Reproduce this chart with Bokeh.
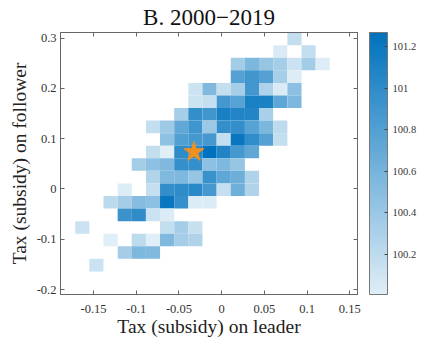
from bokeh.plotting import figure
from bokeh.models import (ColumnDataSource, LinearColorMapper, ColorBar, FixedTicker,
                          CustomJSTickFormatter, LinearAxis, Range1d)
from bokeh.embed import file_html
from bokeh.resources import INLINE

# ---------------- data ----------------
title_text = "B. 2000\u22122019"
x_label = "Tax (subsidy) on leader"
y_label = "Tax (subsidy) on follower"

# bin centres of the 2D histogram
x_centers = [-0.1632, -0.1467, -0.1301, -0.1135, -0.0970, -0.0804, -0.0639, -0.0473, -0.0308,
             -0.0142, 0.0024, 0.0189, 0.0355, 0.0520, 0.0686, 0.0852, 0.1017, 0.1183]
y_centers = [0.2985, 0.2735, 0.2485, 0.2235, 0.1985, 0.1735, 0.1485, 0.1235, 0.0985, 0.0735,
             0.0485, 0.0235, -0.0015, -0.0265, -0.0515, -0.0765, -0.1015, -0.1265, -0.1515]

n = None
# rows top -> bottom (matching y_centers), columns left -> right (matching x_centers)
values = [
    [n, n, n, n, n, n, n, n, n, n, n, n, n, n, n, 100.17, n, n],
    [n, n, n, n, n, n, n, n, n, n, n, n, n, n, 100.04, n, 100.17, n],
    [n, n, n, n, n, n, n, n, n, n, n, 100.35, 100.57, 100.42, 100.33, 100.13, 100.35, 100.02],
    [n, n, n, n, n, n, n, n, n, n, n, 100.79, 100.90, 100.79, 100.33, 100.02, n, n],
    [n, n, n, n, n, n, n, n, 100.12, 100.54, 100.16, 100.33, 100.89, 100.29, 100.04, 100.48, n, n],
    [n, n, n, n, n, n, n, n, 100.12, 100.16, 100.88, 100.78, 101.13, 101.12, 100.74, 100.57, n, n],
    [n, n, n, n, n, n, n, 100.33, 100.98, 100.90, 101.13, 101.08, 101.07, 100.32, n, n, n, n],
    [n, n, n, n, n, 100.17, 100.38, 100.72, 100.91, 100.40, 100.98, 100.98, 100.78, 100.57, 100.20, n, n, n],
    [n, n, n, n, n, n, 100.46, 100.81, 100.87, 100.87, 100.17, 101.22, 100.99, 100.79, 100.17, n, n, n],
    [n, n, n, n, n, 100.17, 100.01, 101.00, 101.04, 101.27, 101.08, 100.87, 100.73, n, n, n, n, n],
    [n, n, n, n, 100.35, 100.47, 100.54, 100.97, 100.97, 100.47, 100.56, 100.42, n, n, n, n, n, n],
    [n, n, n, n, n, 100.27, 100.54, 100.56, 100.42, 100.94, 100.74, 100.65, 100.28, n, n, n, n, n],
    [n, n, n, 100.02, n, 100.16, 100.98, 101.00, 101.03, 100.87, 100.16, 100.65, 100.28, n, n, n, n, n],
    [n, n, 100.21, 100.34, 100.51, 100.47, 101.22, 100.97, 100.03, 100.03, n, n, n, n, n, n, n, n],
    [n, n, n, 100.93, 101.00, 100.13, 100.03, n, n, n, n, n, n, n, n, n, n, n],
    [100.13, n, n, n, n, n, 100.17, 100.34, 100.15, n, n, n, n, n, n, n, n, n],
    [n, n, 100.01, n, 100.20, 100.01, 100.54, 100.34, 100.28, n, n, n, n, n, n, n, n, n],
    [n, n, n, 100.34, 100.57, 100.54, n, n, n, n, n, n, n, n, n, n, n, n],
    [n, 100.13, n, n, n, n, n, n, n, n, n, n, n, n, n, n, n, n],
]

star_x = [-0.0325]
star_y = [0.0736]

x_ticks = [-0.15, -0.1, -0.05, 0, 0.05, 0.1, 0.15]
y_ticks = [-0.2, -0.1, 0, 0.1, 0.2, 0.3]
cbar_ticks = [100.2, 100.4, 100.6, 100.8, 101.0, 101.2]
cbar_low, cbar_high = 100.005, 101.27

# ---------------- styling ----------------
FONT = "Liberation Serif"
BIN_W = 0.01656
BIN_H = 0.025
X0, X1 = -0.1887, 0.159
Y0, Y1 = -0.2099, 0.3112
lo = (224, 238, 247)
hi = (0, 114, 189)
palette = ["#%02x%02x%02x" % tuple(round(lo[k] + (hi[k] - lo[k]) * i / 255) for k in range(3))
           for i in range(256)]

xs, ys, vs = [], [], []
for r, row in enumerate(values):
    for c, v in enumerate(row):
        if v is not None:
            xs.append(x_centers[c]); ys.append(y_centers[r]); vs.append(v)
src = ColumnDataSource(dict(x=xs, y=ys, v=vs))

mapper = LinearColorMapper(palette=palette, low=cbar_low, high=cbar_high)

p = figure(width=423, height=339, x_range=Range1d(X0, X1), y_range=Range1d(Y0, Y1),
           output_backend="svg", toolbar_location=None, title=title_text,
           min_border_left=60, min_border_right=66, min_border_top=31, min_border_bottom=44)
p.title.align = "center"
p.title.text_font = FONT
p.title.text_font_size = "23px"
p.title.text_font_style = "normal"
p.title.text_color = "#111111"
p.title.standoff = 5
p.title.offset = 0

p.rect(x="x", y="y", width=BIN_W, height=BIN_H, source=src,
       fill_color={"field": "v", "transform": mapper}, line_color=None)
p.scatter(star_x, star_y, marker="star", size=21, fill_color="#F0901E", line_color="#F0901E")

p.grid.visible = False
p.outline_line_color = "#666666"
p.background_fill_color = "white"
p.border_fill_color = "white"

fmt2 = CustomJSTickFormatter(code="return (Math.round(tick*100)/100).toString();")
fmt1 = CustomJSTickFormatter(code="return (Math.round(tick*10)/10).toString();")
fmt_blank = CustomJSTickFormatter(code="return '';")

for ax, ticks, lab in ((p.xaxis[0], x_ticks, x_label), (p.yaxis[0], y_ticks, y_label)):
    ax.ticker = FixedTicker(ticks=ticks)
    ax.formatter = fmt2
    ax.axis_label = lab
    ax.axis_label_text_font = FONT
    ax.axis_label_text_font_size = "19.5px"
    ax.axis_label_text_font_style = "normal"
    ax.axis_label_text_color = "#222222"
    ax.major_label_text_font = FONT
    ax.major_label_text_font_size = "12.5px"
    ax.major_label_text_color = "#333333"
    ax.major_tick_in = 4
    ax.major_tick_out = 0
    ax.minor_tick_line_color = None
    ax.axis_line_color = "#666666"
    ax.major_tick_line_color = "#666666"
p.xaxis[0].major_label_standoff = 10
p.xaxis[0].axis_label_standoff = 0
p.yaxis[0].major_label_standoff = 4
p.yaxis[0].axis_label_standoff = 4

# mirrored ticks on the top and right edges of the box
for loc, ticks in (("above", x_ticks), ("right", y_ticks)):
    ax = LinearAxis(ticker=FixedTicker(ticks=ticks), formatter=fmt_blank,
                    major_tick_in=4, major_tick_out=0,
                    minor_tick_line_color=None, major_label_text_font_size="1px",
                    major_label_standoff=0, axis_line_color="#666666",
                    major_tick_line_color="#666666")
    p.add_layout(ax, loc)

# invisible spacer between the plot box and the colour bar
spacer = LinearAxis(ticker=FixedTicker(ticks=y_ticks), formatter=fmt_blank,
                    major_tick_in=0, major_tick_out=12, minor_tick_line_color=None,
                    major_tick_line_color=None, axis_line_color=None,
                    major_label_text_font_size="1px", major_label_standoff=0)
p.add_layout(spacer, "right")

cb = ColorBar(color_mapper=mapper, ticker=FixedTicker(ticks=cbar_ticks), formatter=fmt1,
              width=18, padding=0, margin=16, major_tick_in=3, major_tick_out=0,
              major_tick_line_color="#444444", minor_tick_line_color=None,
              bar_line_color="#777777", bar_line_width=1,
              major_label_text_font=FONT, major_label_text_font_size="10.5px",
              major_label_text_color="#333333", label_standoff=5,
              background_fill_color=None, border_line_color=None)
p.add_layout(cb, "right")

open("out.html", "w").write(file_html(p, INLINE))
